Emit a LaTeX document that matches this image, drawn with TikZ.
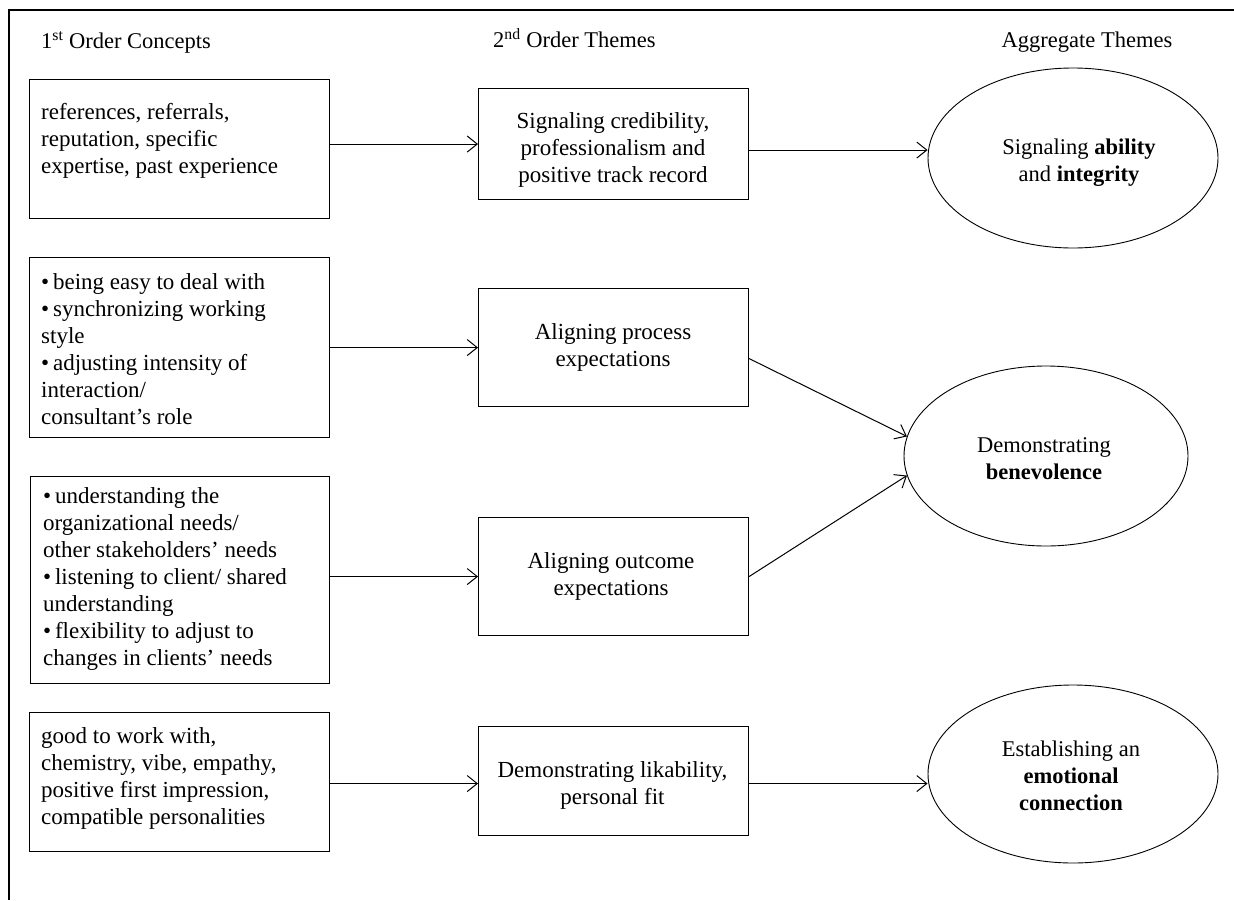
\documentclass[tikz,border=0pt]{standalone}
\usepackage{fontspec}
\setmainfont{Liberation Serif}
\usetikzlibrary{arrows.meta,shapes.geometric,calc}
\begin{document}
\begin{tikzpicture}[x=1pt,y=-1pt,
  font=\fontsize{22.5}{27}\selectfont,
  box/.style={draw, line width=1.1pt, inner sep=0pt, anchor=north west},
  oval/.style={draw, ellipse, line width=0.9pt, inner sep=0pt},
  txt/.style={inner sep=0pt, align=left, font=\fontsize{23}{27}\selectfont},
  ctxt/.style={inner sep=0pt, align=center, font=\fontsize{23}{27}\selectfont},
  etxt/.style={inner sep=0pt, align=center, font=\fontsize{22.5}{27}\selectfont},
  arr/.style={line width=1pt, -{Straight Barb[length=10pt,width=16pt,line width=1pt]}}]
\useasboundingbox (0,0) rectangle (1234,900);
% frame
\coordinate (fr1) at (1234,10);
\coordinate (fr2) at (9,10);
\coordinate (fr3) at (9,900);
\draw[line width=1.1pt] (fr1) -- (fr2) -- (fr3);
% headings
\node[inner sep=0pt, anchor=base west] (h1) at (41,48) {1\textsuperscript{st} Order Concepts};
\node[inner sep=0pt, anchor=base west] (h2) at (493,47) {2\textsuperscript{nd} Order Themes};
\node[inner sep=0pt, anchor=base] (h3) at (1087,47) {Aggregate Themes};
% left boxes
\node[box, minimum width=300pt, minimum height=139pt] (b1) at (29,79) {};
\node[box, minimum width=300pt, minimum height=180pt] (b3) at (29,257) {};
\node[box, minimum width=299pt, minimum height=207pt] (b5) at (30,476) {};
\node[box, minimum width=300pt, minimum height=139pt] (b7) at (29,712) {};
\node[txt, anchor=west] (t1) at (41,141) {references, referrals,\\reputation, specific\\expertise, past experience};
\node[txt, anchor=west] (t3) at (41,349) {•\,being easy to deal with\\•\,synchronizing working\\style\\•\,adjusting intensity of\\interaction/\\consultant’s role};
\node[txt, anchor=west] (t5) at (43,579) {•\,understanding the\\organizational needs/\\other stakeholders’ needs\\•\,listening to client/ shared\\understanding\\•\,flexibility to adjust to\\changes in clients’ needs};
\node[txt, anchor=west] (t7) at (41,778.5) {good to work with,\\chemistry, vibe, empathy,\\positive first impression,\\compatible personalities};
% middle boxes
\node[box, minimum width=270pt, minimum height=111pt] (m2) at (478,88) {};
\node[box, minimum width=270pt, minimum height=118pt] (m4) at (478,288) {};
\node[box, minimum width=270pt, minimum height=118pt] (m6) at (478,517) {};
\node[box, minimum width=270pt, minimum height=109pt] (m8) at (478,726) {};
\node[ctxt] (tm2) at (613,149.5) {Signaling credibility,\\professionalism and\\positive track record};
\node[ctxt] (tm4) at (613,347.5) {Aligning process\\expectations};
\node[ctxt] (tm6) at (611,576.5) {Aligning outcome\\expectations};
\node[ctxt] (tm8) at (612.5,785) {Demonstrating likability,\\personal fit};
% ellipses
\node[oval, minimum width=290pt, minimum height=180pt] (e1) at (1073,158) {};
\node[oval, minimum width=284pt, minimum height=180pt] (e2) at (1046,456) {};
\node[oval, minimum width=290pt, minimum height=178pt] (e3) at (1073,774) {};
\node[etxt] (te1) at (1079,163) {Signaling \textbf{ability}\\and \textbf{integrity}};
\node[etxt] (te2) at (1044,458.5) {Demonstrating\\\textbf{benevolence}};
\node[etxt] (te3) at (1071,776) {Establishing an\\\textbf{emotional}\\\textbf{connection}};
% connectors
\draw[arr] (b1.east |- m2.west) -- (m2.west);
\coordinate (a2) at ([yshift=-6pt]m2.east);
\draw[arr] (a2) -- (a2 -| e1.west);
\draw[arr] (b3.east |- m4.west) -- (m4.west);
\draw[arr] ([yshift=-11pt]m4.east) -- (e2.172);
\draw[arr] (b5.east |- m6.west) -- (m6.west);
\draw[arr] (m6.east) -- (e2.188);
\coordinate (a8) at ([yshift=-2.5pt]m8.west);
\draw[arr] (b7.east |- a8) -- (a8);
\coordinate (a9) at ([yshift=-2.5pt]m8.east);
\draw[arr] (a9) -- (a9 -| e3.west);
\end{tikzpicture}
\end{document}
